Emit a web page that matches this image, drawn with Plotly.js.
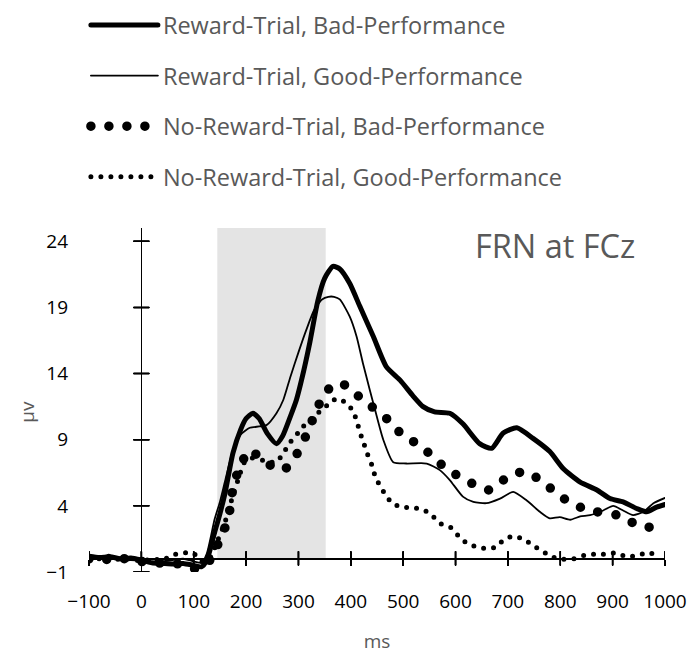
<!DOCTYPE html>
<html>
<head>
<meta charset="utf-8">
<script src="https://cdn.plot.ly/plotly-3.0.1.min.js"></script>
<style>
  html, body { margin: 0; padding: 0; background: #fff; }
  #chart { width: 695px; height: 654px; }
  .js-line { stroke-linecap: round; }
</style>
</head>
<body>
<div id="chart"></div>
<script>
// ---- Data (ms, microvolts) ----
const seriesNames = [
  "Reward-Trial, Bad-Performance",
  "Reward-Trial, Good-Performance",
  "No-Reward-Trial, Bad-Performance",
  "No-Reward-Trial, Good-Performance"
];

const rewBadT = [-100,-80,-60,-40,-20,0,20,40,60,80,100,115,125,140,150,160,175,190,200,213,225,240,258,270,285,296,310,322,337,350,366,379,398,417,443,468,494,519,538,560,589,614,646,669,691,717,748,780,806,838,870,895,920,946,965,984,1000];
const rewBadV = [0.2,0.1,0.15,0.0,0.05,-0.1,-0.3,-0.35,-0.4,-0.35,-0.5,-0.6,-0.1,2.0,3.4,5.0,8.0,9.8,10.6,11.0,10.6,9.5,8.7,9.3,10.8,12.0,14.2,16.4,19.5,21.2,22.1,21.9,20.8,19.1,16.8,14.5,13.5,12.3,11.5,11.1,11.0,10.2,8.7,8.35,9.5,9.9,9.1,8.1,6.8,5.8,5.2,4.55,4.3,3.8,3.55,3.9,4.1];

const rewGoodT = [-100,-80,-60,-40,-20,0,20,40,60,80,100,115,125,140,150,160,175,190,207,225,239,258,271,285,300,315,330,345,357,368,379,398,411,423,436,446,462,481,506,545,570,589,614,634,659,685,710,736,761,780,799,819,838,857,882,901,920,939,959,978,1000];
const rewGoodV = [0.1,0.15,0.1,0.0,-0.1,-0.15,-0.3,-0.2,-0.1,0.0,-0.2,-0.3,0.4,3.0,4.3,5.9,8.2,9.4,9.9,10.0,10.1,11.0,12.0,13.8,15.6,17.3,18.8,19.6,19.8,19.8,19.6,18.3,16.8,14.8,12.8,11.3,9.0,7.3,7.2,7.2,6.7,5.95,4.7,4.3,4.2,4.55,5.05,4.4,3.55,3.05,3.15,2.95,3.2,3.3,3.65,4.0,3.65,3.3,3.55,4.2,4.6];

const noRewBadT = [-100,-80,-60,-40,-20,0,20,40,60,80,100,115,131,145,156,169,175,188,207,236,255,271,285,296,315,331,347,362,376,390,408,440,471,500,535,564,595,631,664,697,732,767,799,831,870,908,943,980];
const noRewBadV = [0.0,0.1,-0.1,0.05,-0.1,-0.2,-0.4,-0.3,-0.3,-0.5,-0.75,-0.7,-0.1,1.0,1.9,3.7,5.4,6.95,8.2,7.3,6.9,6.7,7.2,7.85,9.35,10.9,12.3,13.0,13.3,13.1,12.5,11.5,10.5,9.3,8.5,7.4,6.5,5.7,5.2,6.1,6.6,5.8,4.75,4.0,3.55,3.3,2.65,2.3];

const noRewGoodT = [-100,-80,-60,-40,-20,0,20,40,60,80,100,115,130,145,160,175,185,197,210,220,235,257,271,282,296,309,325,340,355,373,392,405,412,418,425,432,440,446,455,467,479,497,518,539,557,572,591,605,621,640,659,678,692,711,731,748,766,785,806,826,846,866,887,906,927,946,965,986];
const noRewGoodV = [0.1,0.0,0.2,-0.1,0.0,-0.2,0.0,-0.1,0.27,0.45,0.4,-0.2,0.0,1.3,2.8,4.8,6.0,7.3,7.6,7.6,7.4,7.3,7.95,8.7,9.35,10.0,10.6,11.1,11.6,12.1,11.75,11.1,10.3,9.5,8.7,7.9,7.1,6.3,5.55,4.8,4.2,3.9,3.85,3.7,3.2,2.65,2.35,1.75,1.2,0.9,0.77,0.9,1.45,1.7,1.45,1.0,0.57,0.14,-0.04,0.0,0.26,0.34,0.34,0.44,0.14,0.26,0.44,0.34];

const frnWindowMs = [145, 352];
const xTickVals = [-100,0,100,200,300,400,500,600,700,800,900,1000];
const yTickVals = [-1,4,9,14,19,24];
const xRange = [-100, 1000];
const yRange = [-1, 25];

// ---- Traces ----
function tr(name, x, y, width, dash, group) {
  return {
    type: 'scatter', mode: 'lines', name: name, x: x, y: y,
    legendgroup: group,
    line: { color: '#000000', width: width, dash: dash, shape: 'spline', smoothing: 0.6 },
    hoverinfo: 'skip'
  };
}

// Crossing tick marks on the axes that meet at (0, 0), built from the tick arrays
const tickX = [], tickY = [];
xTickVals.forEach(v => { tickX.push(v, v, null); tickY.push(-0.47, 0.53, null); });
yTickVals.forEach(v => { tickX.push(-14.3, 14.3, null); tickY.push(v, v, null); });
const tickTrace = (xa) => ({
  type: 'scatter', mode: 'lines', x: tickX, y: tickY, showlegend: false,
  xaxis: xa, yaxis: 'y', hoverinfo: 'skip', line: { color: '#000', width: 1.5 }
});

const traces = [
  tr(seriesNames[0], rewBadT, rewBadV, 5, 'solid', 'g1'),
  tr(seriesNames[1], rewGoodT, rewGoodV, 1.8, 'solid', 'g2'),
  tr(seriesNames[2], noRewBadT, noRewBadV, 9.5, '0px,18px', 'g3'),
  tr(seriesNames[3], noRewGoodT, noRewGoodV, 5, '0px,10px', 'g4'),
  tickTrace('x'),
  tickTrace('x2'),
  tickTrace('x3')
];

const zeroYpos = (0 - yRange[0]) / (yRange[1] - yRange[0]);
const tickAxis = (dir, len) => ({
  overlaying: 'x', anchor: 'free', position: zeroYpos, side: 'bottom',
  range: xRange, tickmode: 'array', tickvals: xTickVals,
  ticks: dir, ticklen: len, tickwidth: 1.5, tickcolor: '#000',
  showticklabels: false, showgrid: false, zeroline: false, showline: false, fixedrange: true
});

const layout = {
  width: 695, height: 654,
  margin: { l: 89, r: 30, t: 228, b: 82, autoexpand: false },
  paper_bgcolor: '#ffffff', plot_bgcolor: 'rgba(0,0,0,0)',
  font: { family: 'Open Sans, sans-serif', color: '#000' },
  showlegend: true,
  legend: {
    xref: 'container', yref: 'container',
    x: 0.1236, y: 0.995, xanchor: 'left', yanchor: 'top',
    font: { size: 23.5, color: '#595959', family: 'Open Sans, sans-serif' },
    traceorder: 'grouped', tracegroupgap: 17,
    itemwidth: 67, bgcolor: 'rgba(0,0,0,0)', borderwidth: 0
  },
  xaxis: {
    range: xRange, tickmode: 'array', tickvals: xTickVals,
    ticks: '', showline: false, showgrid: false,
    zeroline: true, zerolinecolor: '#000', zerolinewidth: 1.5,
    tickfont: { size: 19, color: '#000' }, ticklabelstandoff: 16,
    title: { text: 'ms', font: { size: 19, color: '#595959' }, standoff: 21 },
    fixedrange: true
  },
  xaxis2: tickAxis('outside', 6),
  xaxis3: tickAxis('inside', 7),
  yaxis: {
    range: yRange, tickmode: 'array', tickvals: yTickVals,
    ticks: '', showline: false, showgrid: false,
    zeroline: true, zerolinecolor: '#000', zerolinewidth: 1.5,
    tickfont: { size: 19, color: '#000' }, ticklabelstandoff: 20,
    fixedrange: true
  },
  shapes: [{
    type: 'rect', xref: 'x', yref: 'y', layer: 'below',
    x0: frnWindowMs[0], x1: frnWindowMs[1], y0: 0, y1: yRange[1],
    fillcolor: '#e4e4e4', line: { width: 0 }
  }],
  annotations: [{
    text: 'FRN at FCz', xref: 'paper', yref: 'paper', x: 0.951, y: 1.02,
    xanchor: 'right', yanchor: 'top', showarrow: false,
    font: { size: 32.5, color: '#595959', family: 'Open Sans, sans-serif' }
  }, {
    text: 'μv', xref: 'paper', yref: 'paper', x: -0.108, y: 0.465,
    xanchor: 'center', yanchor: 'middle', textangle: -90, showarrow: false,
    font: { size: 19, color: '#595959', family: 'Open Sans, sans-serif' }
  }]
};

Plotly.newPlot('chart', traces, layout, { staticPlot: true, displayModeBar: false });
</script>
</body>
</html>
